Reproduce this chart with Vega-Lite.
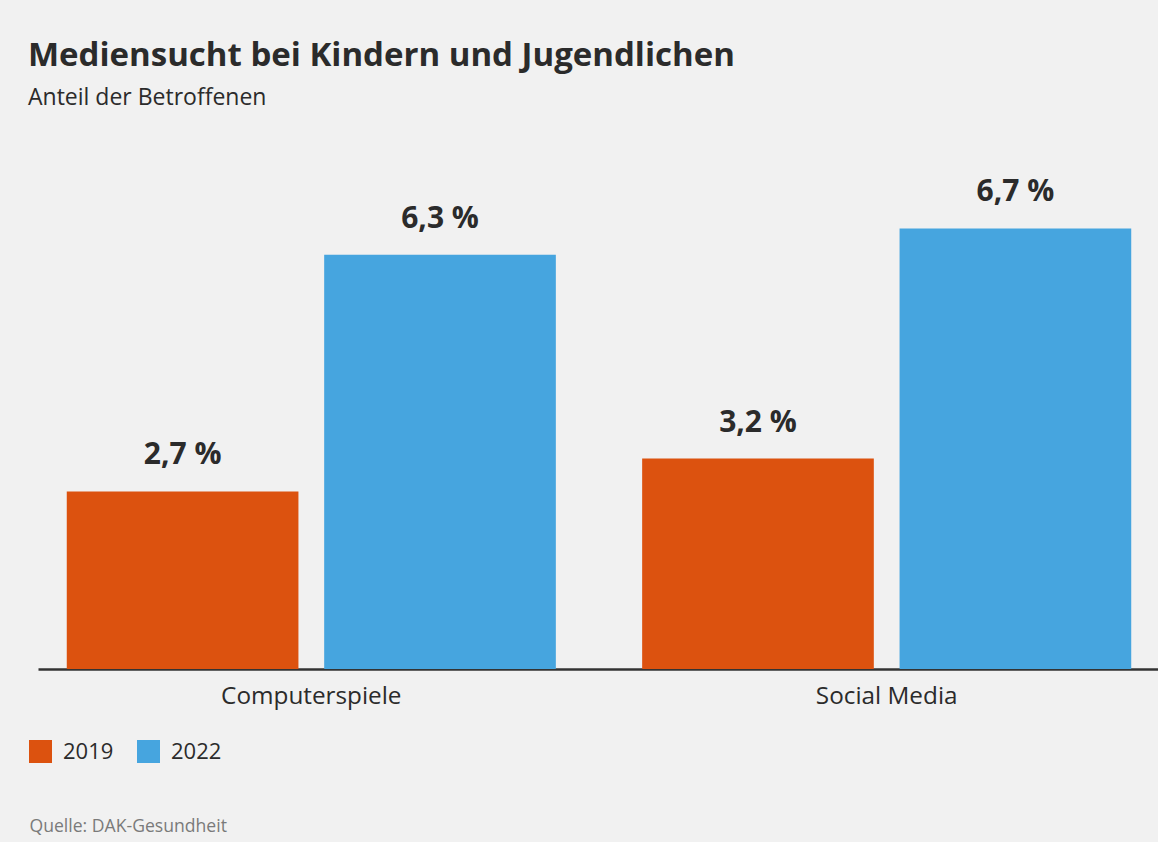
{
  "$schema": "https://vega.github.io/schema/vega-lite/v6.json",
  "autosize": "none",
  "width": 1122,
  "height": 526,
  "padding": {"left": 38, "top": 143, "right": 0, "bottom": 173},
  "background": "#f1f1f1",
  "title": {
    "text": "Mediensucht bei Kindern und Jugendlichen",
    "subtitle": "Anteil der Betroffenen",
    "anchor": "start",
    "frame": "group",
    "dx": -10,
    "offset": 33,
    "font": "Open Sans",
    "fontSize": 33,
    "fontWeight": "bold",
    "color": "#2b2b2b",
    "subtitleFont": "Open Sans",
    "subtitleFontSize": 23,
    "subtitleColor": "#2b2b2b",
    "subtitlePadding": 14
  },
  "data": {
    "values": [
      {"kategorie": "Computerspiele", "jahr": "2019", "anteil": 2.7},
      {"kategorie": "Computerspiele", "jahr": "2022", "anteil": 6.3},
      {"kategorie": "Social Media", "jahr": "2019", "anteil": 3.2},
      {"kategorie": "Social Media", "jahr": "2022", "anteil": 6.7}
    ]
  },
  "transform": [
    {"calculate": "replace(format(datum.anteil, '.1f'), '.', ',') + ' %'", "as": "beschriftung"}
  ],
  "encoding": {
    "x": {
      "field": "kategorie",
      "type": "nominal",
      "sort": null,
      "scale": {"paddingInner": 0.15, "paddingOuter": 0.05},
      "axis": {
        "title": "Quelle: DAK-Gesundheit",
        "titleFont": "Open Sans",
        "titleFontSize": 17.6,
        "titleFontWeight": "normal",
        "titleColor": "#7a7a7a",
        "titleAnchor": "start",
        "titleAlign": "left",
        "titleBaseline": "alphabetic",
        "titleX": -9,
        "titleY": 162,
        "labelAngle": 0,
        "labelFont": "Open Sans",
        "labelFontSize": 24.3,
        "labelColor": "#2b2b2b",
        "labelPadding": 15,
        "labelLimit": 0,
        "ticks": false,
        "domainColor": "#333333",
        "domainWidth": 2.5,
        "grid": false
      }
    },
    "xOffset": {
      "field": "jahr",
      "type": "nominal",
      "scale": {"paddingInner": 0.1, "paddingOuter": 0}
    },
    "y": {
      "field": "anteil",
      "type": "quantitative",
      "scale": {"domain": [0, 8]},
      "axis": null
    }
  },
  "layer": [
    {
      "mark": {"type": "bar"},
      "encoding": {
        "color": {
          "field": "jahr",
          "type": "nominal",
          "scale": {"domain": ["2019", "2022"], "range": ["#dc520f", "#46a5df"]},
          "legend": {
            "title": null,
            "orient": "none",
            "direction": "horizontal",
            "legendX": -9,
            "legendY": 597,
            "symbolType": "square",
            "symbolSize": 529,
            "symbolStrokeWidth": 0,
            "labelFont": "Open Sans",
            "labelFontSize": 22,
            "labelColor": "#2b2b2b",
            "labelOffset": 11,
            "columnPadding": 23,
            "padding": 0
          }
        }
      }
    },
    {
      "mark": {
        "type": "text",
        "baseline": "alphabetic",
        "dy": -27,
        "font": "Open Sans",
        "fontSize": 30,
        "fontWeight": "bold",
        "color": "#2b2b2b"
      },
      "encoding": {
        "text": {"field": "beschriftung", "type": "nominal"}
      }
    }
  ],
  "config": {
    "view": {"stroke": null}
  }
}
